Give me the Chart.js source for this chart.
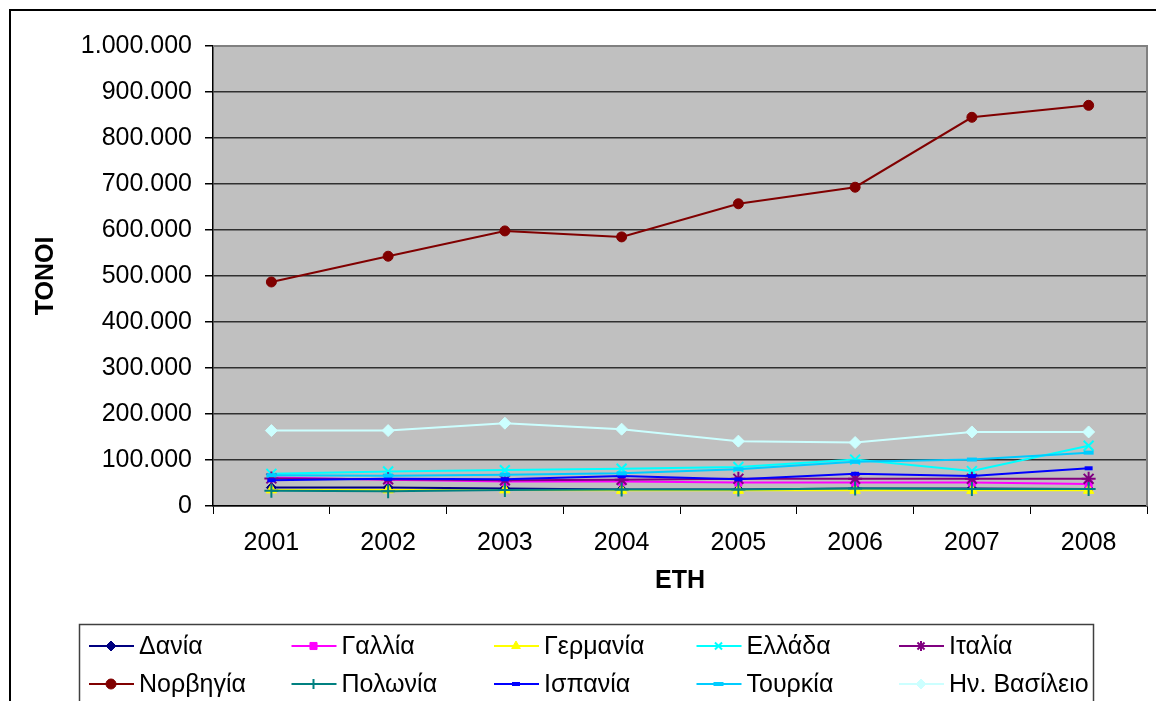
<!DOCTYPE html>
<html>
<head>
<meta charset="utf-8">
<title>ΤΟΝΟΙ ανά ΕΤΗ</title>
<script src="https://cdn.jsdelivr.net/npm/chart.js@4"></script>
<style>
  body { margin: 0; background: #fff; }
  #wrap { width: 1156px; height: 701px; }
</style>
</head>
<body>
<div id="wrap"><canvas id="chart" width="1156" height="701"></canvas></div>
<script>
// ---------- DATA ----------
const years = ["2001", "2002", "2003", "2004", "2005", "2006", "2007", "2008"];
const countries = ["Δανία", "Γαλλία", "Γερμανία", "Ελλάδα", "Ιταλία",
                   "Νορβηγία", "Πολωνία", "Ισπανία", "Τουρκία", "Ην. Βασίλειο"];

const dania    = [40000, 40000, 38000, 36000, 36000, 38000, 38000, 37000];
const gallia   = [62000, 57000, 53000, 53000, 51000, 51000, 51000, 48000];
const germania = [35000, 35000, 35000, 34000, 34000, 34000, 34000, 34000];
const ellada   = [70000, 75000, 78000, 81000, 85000, 101000, 76000, 131000];
const italia   = [60000, 58000, 56000, 57000, 59000, 59000, 59000, 59000];
const norvigia = [487000, 543000, 598000, 585000, 657000, 693000, 845000, 871000];
const polonia  = [33000, 32000, 35000, 36000, 36000, 38000, 37000, 37000];
const ispania  = [56000, 59000, 58000, 65000, 58000, 70000, 65000, 82000];
const tourkia  = [67000, 66000, 68000, 71000, 80000, 96000, 101000, 116000];
const vasileio = [164000, 164000, 180000, 167000, 141000, 138000, 161000, 161000];

const yTicks = [0, 100000, 200000, 300000, 400000, 500000, 600000, 700000, 800000, 900000, 1000000];

const FONT = "Arial, 'Liberation Sans', sans-serif";

// ---------- SERIES STYLE ----------
const styles = [
  { color: "#000080", point: "rectRot",  r: 5 },
  { color: "#ff00ff", point: "rect",     r: 5 },
  { color: "#ffff00", point: "triangle", r: 6 },
  { color: "#00ffff", point: "crossRot", r: 7 },
  { color: "#800080", point: "star",     r: 7 },
  { color: "#800000", point: "circle",   r: 5 },
  { color: "#008080", point: "cross",    r: 7 },
  { color: "#0000ff", point: "line",     r: 4 },
  { color: "#00ccff", point: "line",     r: 5 },
  { color: "#ccffff", point: "rectRot",  r: 6 }
];
const values = [dania, gallia, germania, ellada, italia, norvigia, polonia, ispania, tourkia, vasileio];

const datasets = countries.map((name, i) => {
  const s = styles[i];
  const lineLike = s.point === "line" || s.point.startsWith("cross") || s.point === "star";
  return {
    label: name,
    data: values[i],
    borderColor: s.color,
    backgroundColor: s.color,
    pointBackgroundColor: s.color,
    pointBorderColor: s.color,
    pointStyle: s.point,
    pointRadius: s.r,
    pointBorderWidth: s.point === "line" ? 4 : (lineLike ? 2 : 1),
    borderWidth: 2,
    tension: 0,
    order: 20 - i   // later series drawn on top (like Excel)
  };
});

// ---------- FRAME / BACKGROUND / LEGEND ----------
const framePlugin = {
  id: "frame",
  beforeDraw(chart) {
    const { ctx, chartArea: a } = chart;
    ctx.save();
    ctx.fillStyle = "#fff";
    ctx.fillRect(0, 0, chart.width, chart.height);
    ctx.fillStyle = "#c0c0c0";
    ctx.fillRect(a.left, a.top, a.right - a.left, a.bottom - a.top);
    // outer frame (left + top)
    ctx.strokeStyle = "#000";
    ctx.lineWidth = 2;
    ctx.beginPath();
    ctx.moveTo(10, chart.height);
    ctx.lineTo(10, 10);
    ctx.lineTo(chart.width, 10);
    ctx.stroke();
    ctx.restore();
  },
  beforeDatasetsDraw(chart) {
    const { ctx, chartArea: a } = chart;
    ctx.save();
    ctx.strokeStyle = "#808080";
    ctx.lineWidth = 2;
    ctx.beginPath();
    ctx.moveTo(a.left, a.top);
    ctx.lineTo(a.right, a.top);
    ctx.lineTo(a.right, a.bottom);
    ctx.stroke();
    ctx.restore();
  },
  afterDraw(chart) {
    const { ctx } = chart;
    ctx.save();
    // legend box
    ctx.strokeStyle = "#404040";
    ctx.lineWidth = 1.5;
    ctx.strokeRect(79.5, 624.5, 1014, 90);

    ctx.font = "25px " + FONT;
    ctx.textBaseline = "middle";
    ctx.textAlign = "left";
    chart.data.datasets.forEach((ds, i) => {
      const col = i % 5, row = Math.floor(i / 5);
      const x0 = 89 + col * 202.5;
      const y = row === 0 ? 646 : 684;
      ctx.strokeStyle = ds.borderColor;
      ctx.lineWidth = 2;
      ctx.beginPath();
      ctx.moveTo(x0, y);
      ctx.lineTo(x0 + 45, y);
      ctx.stroke();
      ctx.fillStyle = ds.pointBackgroundColor;
      ctx.lineWidth = ds.pointBorderWidth;
      Chart.helpers.drawPoint(ctx, {
        pointStyle: ds.pointStyle,
        radius: Math.min(ds.pointRadius, 5),
        rotation: 0,
        borderWidth: ds.pointBorderWidth
      }, x0 + 22, y);
      ctx.fillStyle = "#000";
      ctx.fillText(ds.label, x0 + 50, y + 1);
    });
    ctx.restore();
  }
};

const fmt = v => String(v).replace(/\B(?=(\d{3})+(?!\d))/g, ".");

new Chart(document.getElementById("chart"), {
  type: "line",
  data: { labels: years, datasets },
  options: {
    responsive: false,
    animation: false,
    layout: { padding: { left: 0, top: 46, right: 0, bottom: 0 } },
    plugins: { legend: { display: false }, tooltip: { enabled: false } },
    scales: {
      x: {
        offset: true,
        afterFit: s => { s.height = 195; },
        grid: {
          offset: true,
          drawOnChartArea: false,
          drawTicks: true,
          tickLength: 8,
          tickColor: "#000",
          lineWidth: 1
        },
        border: { color: "#000", width: 1.5 },
        ticks: { color: "#000", font: { size: 25, family: FONT }, padding: 14, maxRotation: 0 },
        title: {
          display: true, text: "ΕΤΗ", color: "#000",
          font: { size: 25, weight: "bold", family: FONT },
          padding: { top: 0, bottom: 105 }
        }
      },
      y: {
        min: 0, max: 1000000,
        afterFit: s => { s.width = 213; },
        afterBuildTicks: s => { s.ticks = yTicks.map(v => ({ value: v })); },
        grid: {
          color: c => c.tick && c.tick.value === 1000000 ? "#808080" : "#303030",
          lineWidth: 1.5,
          tickLength: 8,
          tickColor: "#000"
        },
        border: { color: "#000", width: 1.5 },
        ticks: {
          color: "#000", font: { size: 25, family: FONT }, padding: 13,
          callback: v => fmt(v)
        },
        title: {
          display: true, text: "ΤΟΝΟΙ", color: "#000",
          font: { size: 25, weight: "bold", family: FONT },
          padding: { top: 31, bottom: 0 }
        }
      }
    }
  },
  plugins: [framePlugin]
});
</script>
</body>
</html>
